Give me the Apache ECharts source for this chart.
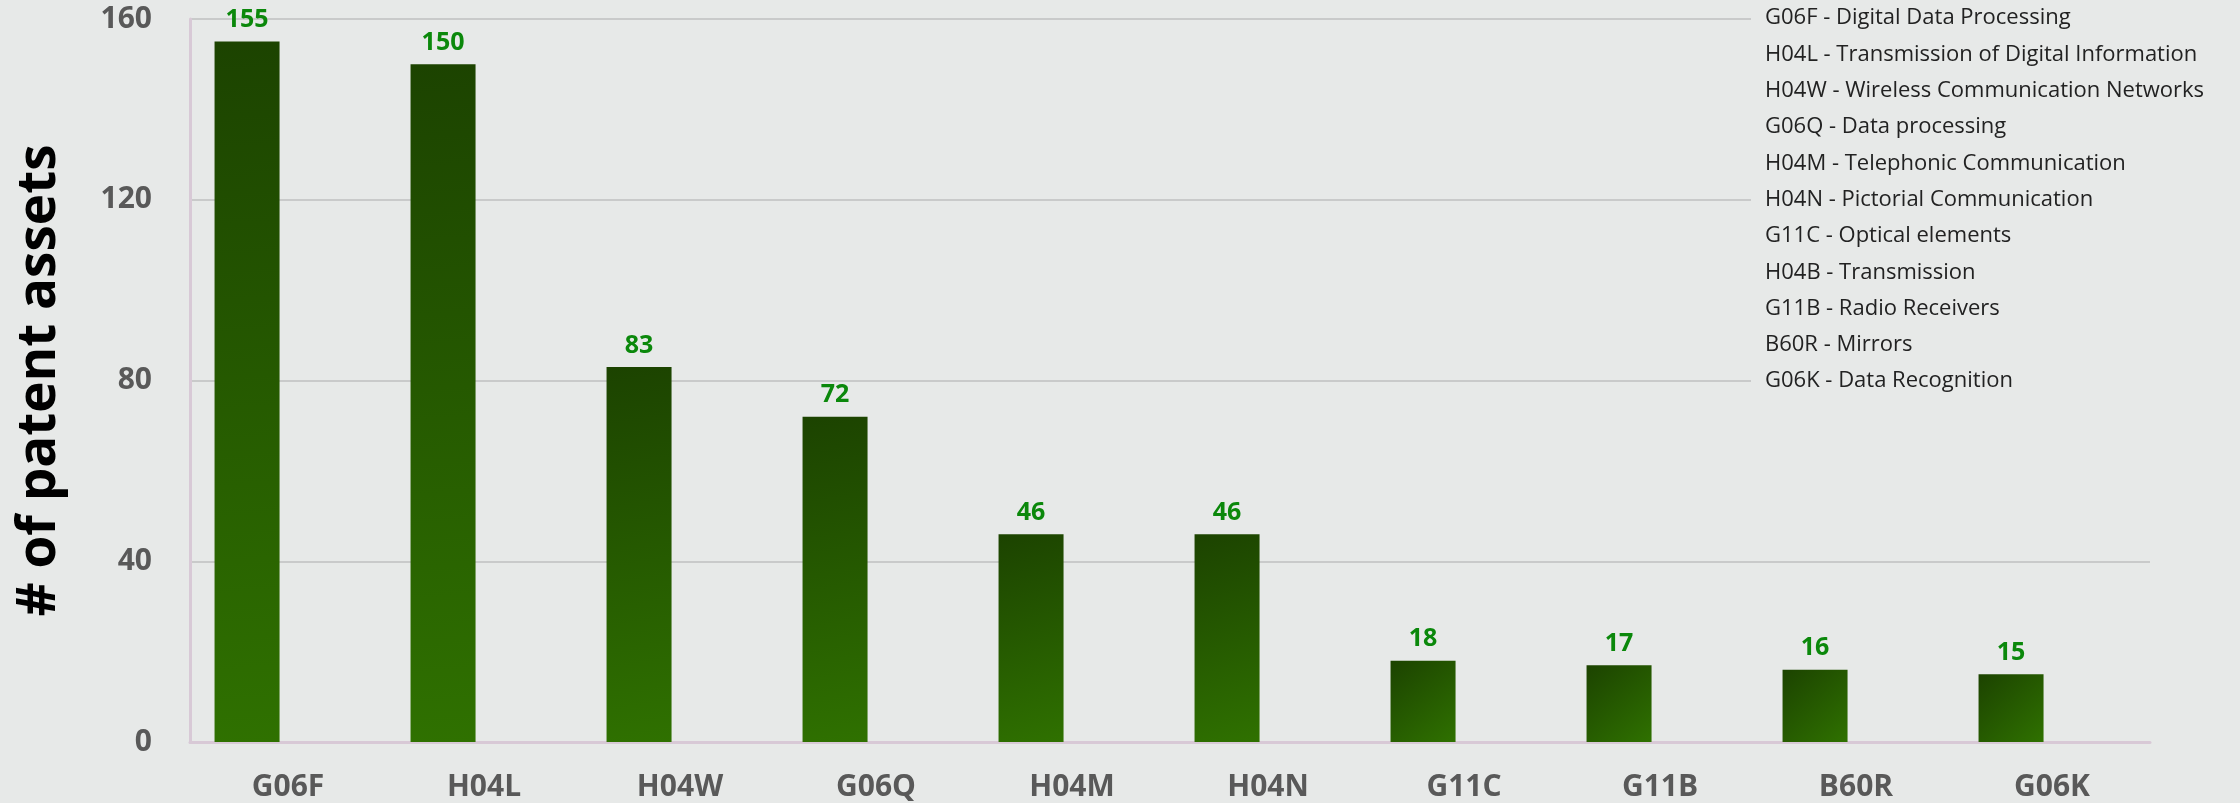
<!DOCTYPE html>
<html>
<head>
<meta charset="utf-8">
<title>Patent assets by CPC class</title>
<script src="https://cdn.jsdelivr.net/npm/echarts@6/dist/echarts.min.js"></script>
<style>
  html, body { margin: 0; padding: 0; background: #e7e9e8; }
  #chart { width: 2240px; height: 803px; }
</style>
</head>
<body>
<div id="chart"></div>
<script>
// 数据
var categories = ['G06F', 'H04L', 'H04W', 'G06Q', 'H04M', 'H04N', 'G11C', 'G11B', 'B60R', 'G06K']
var assetCounts = [155, 150, 83, 72, 46, 46, 18, 17, 16, 15]
var classNames = [
  'G06F - Digital Data Processing',
  'H04L - Transmission of Digital Information',
  'H04W - Wireless Communication Networks',
  'G06Q - Data processing',
  'H04M - Telephonic Communication',
  'H04N - Pictorial Communication',
  'G11C - Optical elements',
  'H04B - Transmission',
  'G11B - Radio Receivers',
  'B60R - Mirrors',
  'G06K - Data Recognition'
]
var yTicks = [0, 40, 80, 120, 160]

var chart = echarts.init(document.getElementById('chart'), null, { renderer: 'canvas' })

var option = {
  backgroundColor: '#e7e9e8',
  animation: false,
  textStyle: { fontFamily: 'Open Sans' },
  title: {
    text: classNames.join('\n'),
    left: 1751,
    top: 0,
    padding: [0, 40, 12, 14],
    backgroundColor: '#e7e9e8',
    textStyle: {
      fontFamily: 'Open Sans',
      fontSize: 22,
      fontWeight: 'normal',
      color: '#222',
      lineHeight: 36.3
    }
  },
  grid: {
    left: 190,
    right: 90,
    top: 19,
    bottom: 61,
    outerBoundsMode: 'none'
  },
  xAxis: {
    type: 'category',
    data: categories,
    axisTick: { show: false },
    axisLine: { lineStyle: { color: '#d8c9d6', width: 3 } },
    axisLabel: {
      margin: 30,
      fontSize: 30,
      fontWeight: 'bold',
      color: '#595959',
      fontFamily: 'Open Sans'
    }
  },
  yAxis: {
    type: 'value',
    min: yTicks[0],
    max: yTicks[yTicks.length - 1],
    interval: yTicks[1] - yTicks[0],
    name: '# of patent assets',
    nameLocation: 'middle',
    nameRotate: 90,
    nameGap: 124,
    nameTextStyle: {
      fontSize: 53,
      fontWeight: 'bold',
      color: '#000',
      fontFamily: 'Open Sans'
    },
    axisLine: { show: true, lineStyle: { color: '#d8c9d6', width: 3 } },
    axisTick: { show: false },
    axisLabel: {
      margin: 38,
      fontSize: 30,
      fontWeight: 'bold',
      color: '#595959',
      fontFamily: 'Open Sans'
    },
    splitLine: { lineStyle: { color: '#c9caca', width: 2 } }
  },
  series: [
    {
      name: '# of patent assets',
      type: 'bar',
      data: assetCounts,
      barWidth: 65,
      barGap: '26%',
      itemStyle: {
        color: new echarts.graphic.LinearGradient(0, 0, 1, 1, [
          { offset: 0, color: '#1c4300' },
          { offset: 1, color: '#2f7100' }
        ])
      },
      label: {
        show: true,
        position: 'top',
        distance: 9,
        fontSize: 25,
        fontWeight: 'bold',
        color: '#0b880b',
        fontFamily: 'Open Sans'
      }
    },
    {
      // 空系列，占位让柱子偏左
      name: 'spacer',
      type: 'bar',
      data: [],
      barWidth: 65,
      barGap: '26%'
    }
  ]
}

chart.setOption(option)
window.addEventListener('resize', function () { chart.resize() })
</script>
</body>
</html>
